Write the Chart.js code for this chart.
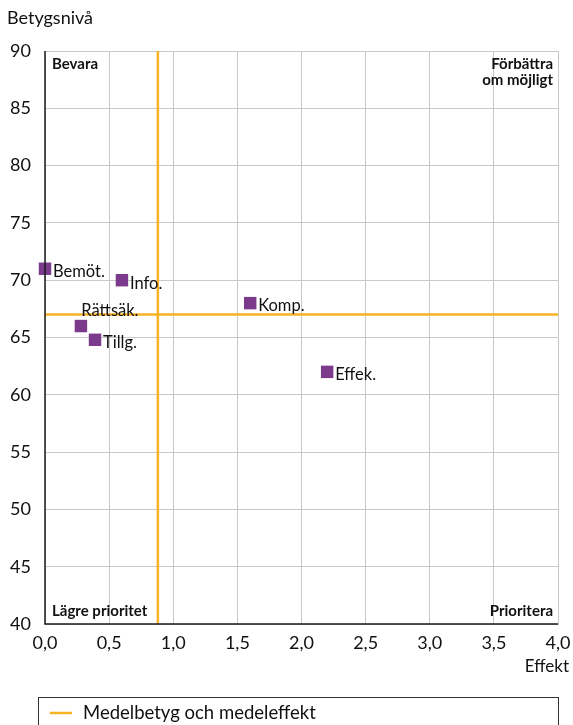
<!DOCTYPE html>
<html>
<head>
<meta charset="utf-8">
<script src="https://cdn.jsdelivr.net/npm/chart.js@4.4.1/dist/chart.umd.min.js"></script>
<style>
  html, body { margin: 0; padding: 0; background: #fff; }
  #wrap { position: relative; width: 573px; height: 725px; }
</style>
</head>
<body>
<div id="wrap"><canvas id="chart" width="573" height="725"></canvas></div>
<script>
// data
const labels = ['Bemöt.', 'Info.', 'Rättsäk.', 'Tillg.', 'Komp.', 'Effek.'];
const effekt = [0.0, 0.6, 0.28, 0.39, 1.6, 2.2];
const betyg = [71, 70, 66, 64.8, 68, 62];
const meanEffekt = 0.88;
const meanBetyg = 67;
const xTicks = [0, 0.5, 1, 1.5, 2, 2.5, 3, 3.5, 4];
const yTicks = [40, 45, 50, 55, 60, 65, 70, 75, 80, 85, 90];
const quadrants = ['Bevara', 'Förbättra\nom möjligt', 'Lägre prioritet', 'Prioritera'];
const legendText = 'Medelbetyg och medeleffekt';

const PURPLE = '#7b3a8c';
const ORANGE = '#f6b324';
const FONT = 'Lato, "Open Sans", sans-serif';

const points = effekt.map((x, i) => ({ x, y: betyg[i] }));

const overlay = {
  id: 'overlay',
  afterDraw(chart) {
    const ctx = chart.ctx;
    const a = chart.chartArea;
    ctx.save();

    // axis title top-left
    ctx.fillStyle = '#111';
    ctx.font = '18px ' + FONT;
    ctx.textBaseline = 'middle';
    ctx.textAlign = 'left';
    ctx.fillText('Betygsnivå', 7, 18);

    // x axis title
    ctx.font = '17px ' + FONT;
    ctx.textAlign = 'right';
    ctx.fillText('Effekt', 569, 667);

    // frame: black left & bottom
    ctx.strokeStyle = '#1a1a1a';
    ctx.lineWidth = 1.5;
    ctx.beginPath();
    ctx.moveTo(a.left, a.top);
    ctx.lineTo(a.left, a.bottom);
    ctx.lineTo(a.right, a.bottom);
    ctx.stroke();

    // quadrant labels
    ctx.font = 'bold 15px ' + FONT;
    ctx.fillStyle = '#111';
    ctx.textAlign = 'left';
    ctx.fillText(quadrants[0], a.left + 7, a.top + 13);
    ctx.fillText(quadrants[2], a.left + 7, a.bottom - 13);
    ctx.textAlign = 'right';
    const tr = quadrants[1].split('\n');
    ctx.fillText(tr[0], a.right - 5, a.top + 13);
    ctx.fillText(tr[1], a.right - 5, a.top + 29);
    ctx.fillText(quadrants[3], a.right - 5, a.bottom - 13);

    // point labels
    ctx.font = '16.5px ' + FONT;
    ctx.fillStyle = '#111';
    const meta = chart.getDatasetMeta(2);
    meta.data.forEach((el, i) => {
      const name = labels[i];
      if (name === 'Rättsäk.') {
        ctx.textAlign = 'center';
        ctx.fillText(name, el.x + 29, el.y - 15);
      } else {
        ctx.textAlign = 'left';
        ctx.fillText(name, el.x + 8, el.y + 3);
      }
    });

    // legend box
    ctx.strokeStyle = '#333';
    ctx.lineWidth = 1;
    ctx.strokeRect(38.5, 697.5, 520, 40);
    ctx.strokeStyle = ORANGE;
    ctx.lineWidth = 2.5;
    ctx.beginPath();
    ctx.moveTo(50, 713);
    ctx.lineTo(72, 713);
    ctx.stroke();
    ctx.fillStyle = '#111';
    ctx.font = '18.5px ' + FONT;
    ctx.textAlign = 'left';
    ctx.fillText(legendText, 83, 713);

    ctx.restore();
  }
};

new Chart(document.getElementById('chart'), {
  type: 'scatter',
  data: {
    datasets: [
      {
        label: legendText,
        type: 'line',
        data: [{ x: meanEffekt, y: yTicks[0] }, { x: meanEffekt, y: yTicks[yTicks.length - 1] }],
        borderColor: ORANGE,
        borderWidth: 2.5,
        pointRadius: 0,
        fill: false
      },
      {
        label: legendText,
        type: 'line',
        data: [{ x: xTicks[0], y: meanBetyg }, { x: xTicks[xTicks.length - 1], y: meanBetyg }],
        borderColor: ORANGE,
        borderWidth: 2.5,
        pointRadius: 0,
        fill: false
      },
      {
        label: 'Tjänsteområden',
        data: points,
        clip: false,
        pointStyle: 'rect',
        pointRadius: 8.8,
        pointHoverRadius: 8.8,
        backgroundColor: PURPLE,
        borderColor: PURPLE,
        borderWidth: 0
      }
    ]
  },
  options: {
    responsive: false,
    animation: false,
    layout: { padding: { top: 51, right: 0, left: 0, bottom: 0 } },
    plugins: {
      legend: { display: false },
      tooltip: { enabled: false }
    },
    scales: {
      x: {
        type: 'linear',
        min: 0,
        max: 4,
        afterBuildTicks: s => { s.ticks = xTicks.map(v => ({ value: v })); },
        afterFit: s => { s.height = 725 - 624; s.paddingRight = 15; s.paddingLeft = 0; },
        grid: { color: '#c8c8c8', lineWidth: 1, drawTicks: false },
        border: { display: true, color: '#c8c8c8' },
        ticks: {
          padding: 8,
          color: '#111',
          font: { family: FONT, size: 18 },
          callback: v => v.toFixed(1).replace('.', ',')
        }
      },
      y: {
        type: 'linear',
        min: 40,
        max: 90,
        afterBuildTicks: s => { s.ticks = yTicks.map(v => ({ value: v })); },
        afterFit: s => { s.width = 45; },
        grid: { color: '#c8c8c8', lineWidth: 1, drawTicks: false },
        border: { display: true, color: '#c8c8c8' },
        ticks: {
          padding: 14,
          color: '#111',
          font: { family: FONT, size: 18 },
          callback: v => String(v)
        }
      }
    }
  },
  plugins: [overlay]
});
</script>
</body>
</html>
